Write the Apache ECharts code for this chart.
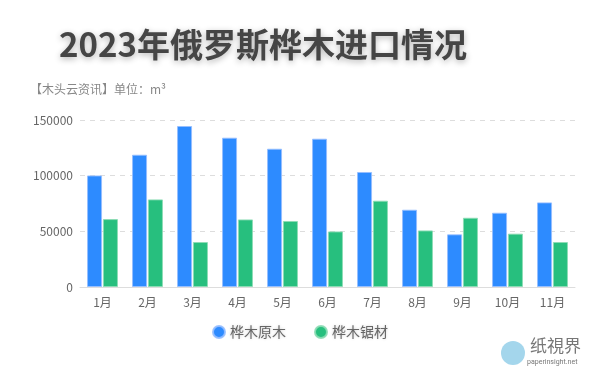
<!DOCTYPE html>
<html><head><meta charset="utf-8">
<script src="https://cdn.jsdelivr.net/npm/echarts@6/dist/echarts.min.js"></script>
<style>html,body{margin:0;padding:0;background:#fff}#c{width:600px;height:377px}</style>
</head><body><div id="c"></div>
<script>
const categories = ['1月','2月','3月','4月','5月','6月','7月','8月','9月','10月','11月'];
const logValues = [100200, 118800, 144600, 134100, 124200, 133200, 103300, 69400, 47300, 66700, 76000];
const lumberValues = [61000, 78700, 40400, 60700, 59300, 49900, 77500, 50800, 62200, 47900, 40400];
const yTicks = [0, 50000, 100000, 150000];
const seriesNames = ['桦木原木', '桦木锯材'];

const font = '"Noto Sans CJK SC", "Noto Sans", sans-serif';
const chart = echarts.init(document.getElementById('c'));
chart.setOption({
  backgroundColor: '#fff',
  animation: false,
  textStyle: { fontFamily: font },
  title: [{
    text: '2023年俄罗斯桦木进口情况',
    left: 54, top: 23,
    textStyle: { fontSize: 33, fontWeight: 'bold', color: '#454545', fontFamily: font,
      textShadowColor: 'rgba(0,0,0,0.3)', textShadowBlur: 6, textShadowOffsetY: 2 }
  }, {
    text: '【木头云资讯】单位：m³',
    left: 25, top: 78,
    textStyle: { fontSize: 12, fontWeight: 'normal', color: '#888', fontFamily: font }
  }],
  legend: {
    data: seriesNames,
    bottom: 33, left: 'center',
    icon: 'circle', itemWidth: 12, itemHeight: 12, itemGap: 28,
    textStyle: { fontSize: 14, color: '#666', fontFamily: font,
      textShadowColor: 'rgba(0,0,0,0.2)', textShadowBlur: 3 }
  },
  grid: { left: 80, right: 25, top: 120, bottom: 90 },
  xAxis: {
    type: 'category', data: categories,
    axisLine: { lineStyle: { color: '#ddd' } },
    axisTick: { alignWithLabel: true, lineStyle: { color: '#ddd' } },
    axisLabel: { color: '#666', fontSize: 12, margin: 9 }
  },
  yAxis: {
    type: 'value', min: yTicks[0], max: yTicks[yTicks.length-1], interval: yTicks[1]-yTicks[0],
    axisLine: { show: false }, axisTick: { show: false },
    axisLabel: { color: '#666', fontSize: 12, margin: 7, formatter: v => String(v) },
    splitLine: { lineStyle: { type: [5, 5], color: '#ddd' } }
  },
  series: [{
    name: seriesNames[0], type: 'bar', data: logValues, barWidth: 15, barGap: '6%',
    itemStyle: { color: '#2d8bff', borderColor: 'rgba(150,190,255,0.9)', borderWidth: 1 }
  }, {
    name: seriesNames[1], type: 'bar', data: lumberValues, barWidth: 15,
    itemStyle: { color: '#27bf7e', borderColor: 'rgba(140,220,180,0.9)', borderWidth: 1 }
  }],
  graphic: [{
    type: 'circle', left: 501, top: 341, shape: { r: 12 },
    style: { fill: 'rgba(90,180,220,0.55)' }
  }, {
    type: 'text', left: 530, top: 337,
    style: { text: '纸視界', fontSize: 17, fill: '#777', fontFamily: font }
  }, {
    type: 'text', left: 527, top: 359,
    style: { text: 'paperinsight.net', fontSize: 7, fill: '#777', fontFamily: 'Roboto, sans-serif' }
  }]
});
</script></body></html>
